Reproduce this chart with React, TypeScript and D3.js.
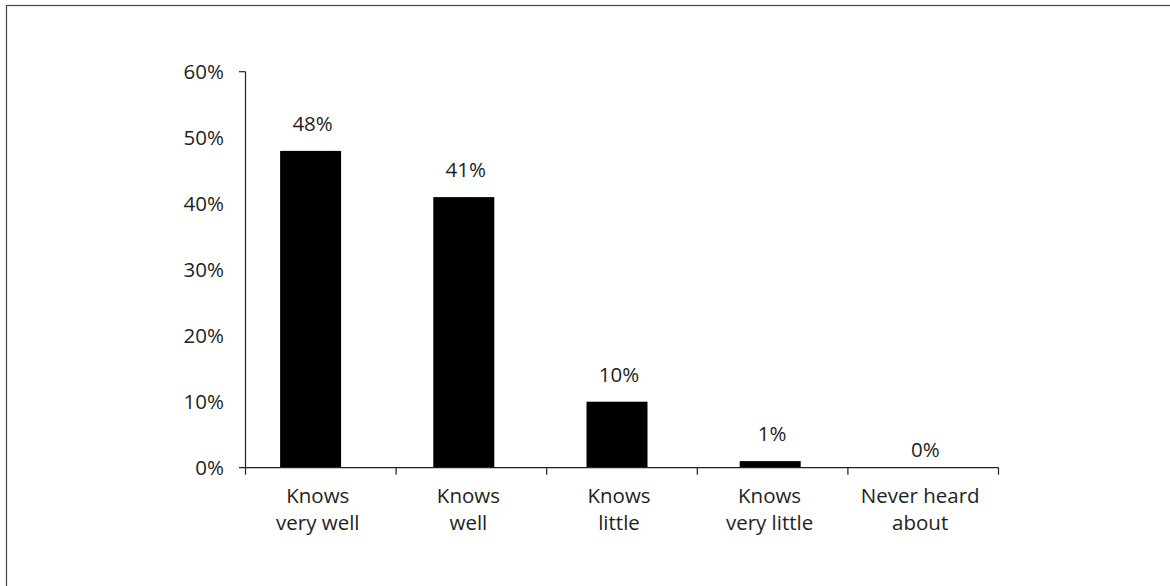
import React from "react";
import * as d3 from "d3";

const categories: string[][] = [
  ["Knows", "very well"],
  ["Knows", "well"],
  ["Knows", "little"],
  ["Knows", "very little"],
  ["Never heard", "about"],
];
const values: number[] = [48, 41, 10, 1, 0];
const yTicks: number[] = [0, 10, 20, 30, 40, 50, 60];

const W = 1170;
const H = 586;
const ink = "#231f20";
const font = "'Open Sans', sans-serif";
const fs = 20.5;

export default function App() {
  const keys = categories.map((c) => c.join(" "));
  const x = d3.scaleBand<string>().domain(keys).range([245.5, 998.5]).padding(0);
  const xBar = d3.scaleBand<string>().domain(keys).range([234, 1000]).padding(0);
  const y = d3.scaleLinear().domain([0, 60]).range([467.7, 71.7]);
  const barW = 61;
  const bw = x.bandwidth();
  const y0 = y(0);

  return (
    <svg
      width={W}
      height={H}
      style={{ position: "absolute", left: 0, top: 0, background: "#fff" }}
      fontFamily={font}
    >
      <rect x={6.5} y={5.5} width={1300} height={700} fill="none" stroke="#444" strokeWidth={1.2} />

      {/* y axis */}
      <line x1={245.5} x2={245.5} y1={y(60)} y2={y0} stroke={ink} strokeWidth={1.2} />
      <line x1={239} x2={245.5} y1={y(60)} y2={y(60)} stroke={ink} strokeWidth={1.2} />
      {yTicks.map((t) => (
        <text key={t} x={224} y={y(t)} dy="0.35em" textAnchor="end" fontSize={fs} fill={ink}>
          {t}%
        </text>
      ))}

      {/* bars */}
      {values.map((v, i) => {
        const cx = (xBar(keys[i]) as number) + xBar.bandwidth() / 2;
        return (
          <g key={keys[i]}>
            <rect x={cx - barW / 2} y={y(v)} width={barW} height={y0 - y(v)} fill="#000" />
            <text
              x={cx + 2}
              y={y(v) - (v > 0 ? 20 : 11)}
              textAnchor="middle"
              fontSize={fs}
              fill={ink}
            >
              {v}%
            </text>
          </g>
        );
      })}

      {/* x axis */}
      <line x1={239} x2={998.5} y1={y0} y2={y0} stroke={ink} strokeWidth={1.2} />
      {[...keys.map((k) => x(k) as number), 998.5].map((px, i) => (
        <line key={i} x1={px} x2={px} y1={y0} y2={y0 + 7} stroke={ink} strokeWidth={1.2} />
      ))}
      {categories.map((lines, i) => {
        const cx = (x(keys[i]) as number) + bw / 2 - 3;
        return (
          <text key={keys[i]} textAnchor="middle" fontSize={fs} fill={ink}>
            {lines.map((ln, j) => (
              <tspan key={j} x={cx} y={503 + j * 26.5}>
                {ln}
              </tspan>
            ))}
          </text>
        );
      })}
    </svg>
  );
}
